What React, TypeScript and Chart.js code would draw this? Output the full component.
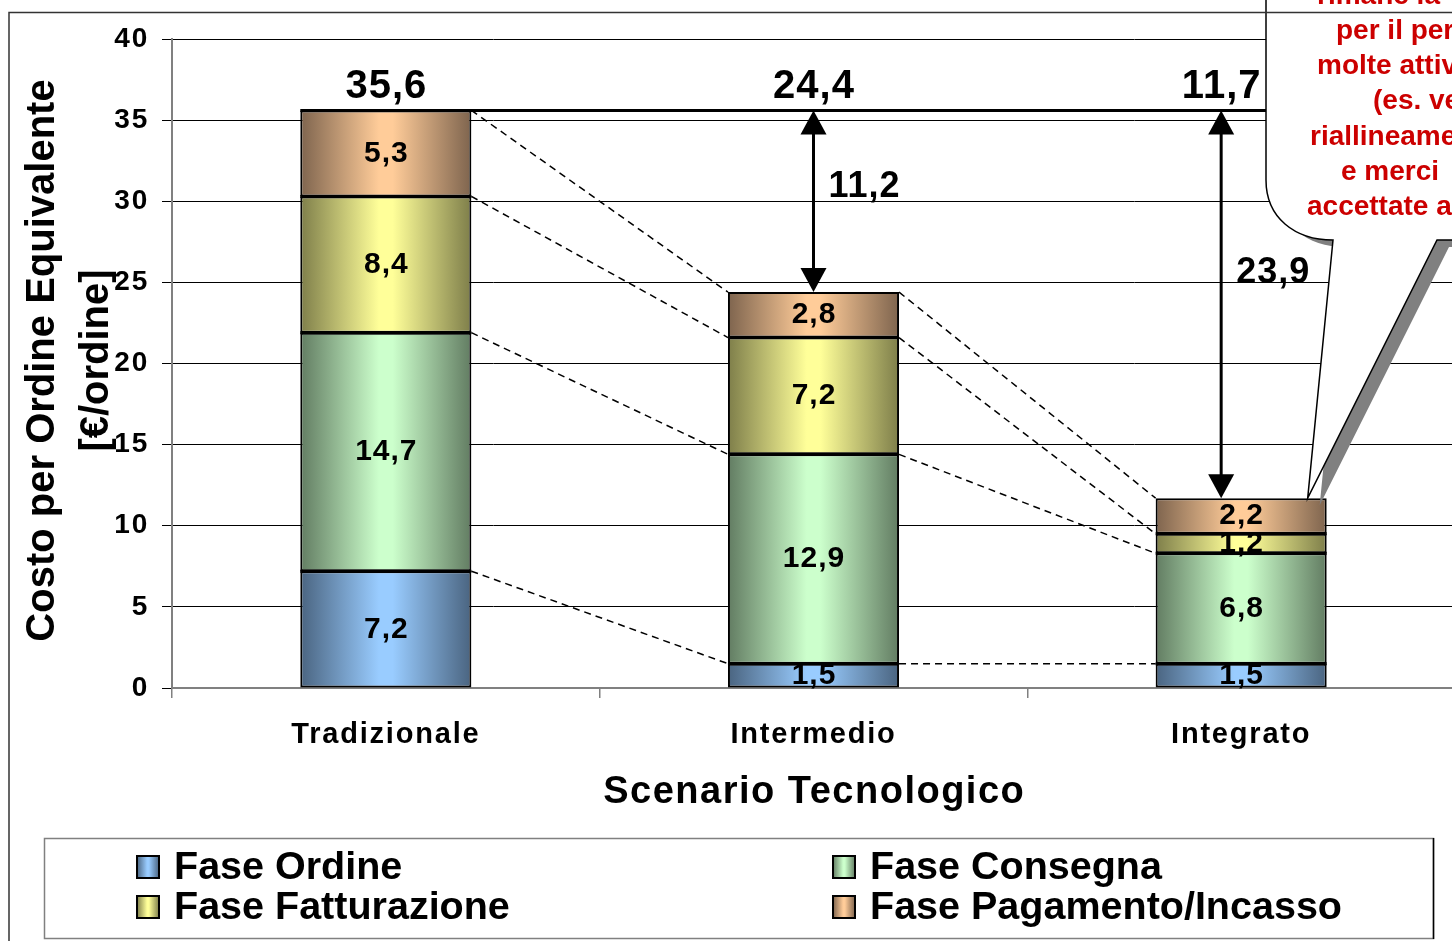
import React, { useEffect, useRef } from 'react';
import { Chart, registerables } from 'chart.js';

Chart.register(...registerables);

// ---------- data ----------
const categories = ['Tradizionale', 'Intermedio', 'Integrato'];
const faseOrdine = [7.2, 1.5, 1.5];
const faseConsegna = [14.7, 12.9, 6.8];
const faseFatturazione = [8.4, 7.2, 1.2];
const fasePagamento = [5.3, 2.8, 2.2];
const seriesLabels = ['Fase Ordine', 'Fase Consegna', 'Fase Fatturazione', 'Fase Pagamento/Incasso'];
const yMin = 0;
const yMax = 40;
const yStep = 5;
const yTitleLines = ['Costo per Ordine Equivalente', '[€/ordine]'];
const xTitle = 'Scenario Tecnologico';
const calloutLines = ['rimane la', 'per il per', 'molte attiv', '(es. ve', 'riallineame', 'e merci', 'accettate a'];

// ---------- styles ----------
const FONT = '"Liberation Sans", Arial, sans-serif';
const lightCol = ['#99ccff', '#ccffcc', '#ffff99', '#ffcc99'];
const darkCol = ['#4a6480', '#627c62', '#7e7e4a', '#7e644e'];
const CANVAS_W = 1470;
const CANVAS_H = 941;

const series = [faseOrdine, faseConsegna, faseFatturazione, fasePagamento];
const fmt = (v: number) => v.toFixed(1).replace('.', ',');

function makeGrad(ctx: CanvasRenderingContext2D, x0: number, x1: number, i: number) {
  const g = ctx.createLinearGradient(x0, 0, x1, 0);
  g.addColorStop(0, darkCol[i]);
  g.addColorStop(0.46, lightCol[i]);
  g.addColorStop(0.54, lightCol[i]);
  g.addColorStop(1, darkCol[i]);
  return g;
}

function txt(
  ctx: CanvasRenderingContext2D,
  s: string,
  x: number,
  y: number,
  size: number,
  o: { align?: CanvasTextAlign; color?: string; spacing?: number; baseline?: CanvasTextBaseline } = {}
) {
  const sp = o.spacing || 0;
  const align = o.align || 'center';
  ctx.save();
  ctx.font = `bold ${size}px ${FONT}`;
  (ctx as any).letterSpacing = `${sp}px`;
  ctx.fillStyle = o.color || '#000';
  ctx.textAlign = align;
  ctx.textBaseline = o.baseline || 'middle';
  ctx.fillText(s, align === 'center' ? x + sp / 2 : x, y);
  ctx.restore();
}

const overlay = {
  id: 'overlay',
  beforeDraw(chart: any) {
    (chart.ctx as any).letterSpacing = '1.8px';
  },
  beforeDatasetsDraw(chart: any) {
    (chart.ctx as any).letterSpacing = '0px';
  },
  afterDatasetsDraw(chart: any) {
    const ctx: CanvasRenderingContext2D = chart.ctx;
    const ys = chart.scales.y;
    const n = categories.length;
    const metas = series.map((_, i) => chart.getDatasetMeta(i));
    const base = metas[0].data as any[];
    const totals = categories.map((_, j) => series.reduce((s, arr) => s + arr[j], 0));
    const maxTotal = Math.max(...totals);
    const yTop = ys.getPixelForValue(maxTotal);

    // solid separators between stacked segments
    ctx.save();
    ctx.strokeStyle = '#000';
    ctx.lineWidth = 3;
    for (let k = 0; k < series.length - 1; k++) {
      metas[k].data.forEach((el: any) => {
        ctx.beginPath();
        ctx.moveTo(el.x - el.width / 2, el.y);
        ctx.lineTo(el.x + el.width / 2, el.y);
        ctx.stroke();
      });
    }
    ctx.restore();

    // dashed connectors between segment tops
    ctx.save();
    ctx.setLineDash([7, 5]);
    ctx.lineWidth = 1.5;
    ctx.strokeStyle = '#000';
    for (let k = 0; k < series.length; k++) {
      for (let j = 0; j < n - 1; j++) {
        const a = metas[k].data[j] as any;
        const b = metas[k].data[j + 1] as any;
        ctx.beginPath();
        ctx.moveTo(a.x + a.width / 2, a.y);
        ctx.lineTo(b.x - b.width / 2, b.y);
        ctx.stroke();
      }
    }
    ctx.restore();

    // segment value labels
    for (let k = 0; k < series.length; k++) {
      metas[k].data.forEach((el: any, j: number) => {
        txt(ctx, fmt(series[k][j]), el.x, (el.y + el.base) / 2, 30, { spacing: 1 });
      });
    }

    // thick reference line at the maximum total
    ctx.save();
    ctx.strokeStyle = '#000';
    ctx.lineWidth = 3;
    ctx.beginPath();
    ctx.moveTo(base[0].x - base[0].width / 2, yTop);
    ctx.lineTo(chart.width, yTop);
    ctx.stroke();
    ctx.restore();

    // totals + arrows
    for (let j = 0; j < n; j++) {
      const ax = base[j].x - (j === n - 1 ? 20 : 0);
      txt(ctx, fmt(totals[j]), ax, yTop - 23, 40, { spacing: 1 });
      if (j === 0) continue;
      const yb = ys.getPixelForValue(totals[j]);
      const hw = 13;
      const hh = 24;
      ctx.save();
      ctx.strokeStyle = '#000';
      ctx.fillStyle = '#000';
      ctx.lineWidth = 3;
      ctx.beginPath();
      ctx.moveTo(ax, yTop + hh - 2);
      ctx.lineTo(ax, yb - hh + 2);
      ctx.stroke();
      ctx.beginPath();
      ctx.moveTo(ax, yTop);
      ctx.lineTo(ax - hw, yTop + hh);
      ctx.lineTo(ax + hw, yTop + hh);
      ctx.closePath();
      ctx.fill();
      ctx.beginPath();
      ctx.moveTo(ax, yb);
      ctx.lineTo(ax - hw, yb - hh);
      ctx.lineTo(ax + hw, yb - hh);
      ctx.closePath();
      ctx.fill();
      ctx.restore();
      txt(ctx, fmt(totals[0] - totals[j]), ax + 15, yTop + (yb - yTop) * 0.42, 36, { align: 'left', spacing: 1 });
    }
  },
  afterDraw(chart: any) {
    const ctx: CanvasRenderingContext2D = chart.ctx;
    const area = chart.chartArea;
    const n = categories.length;
    const last = chart.getDatasetMeta(series.length - 1).data[n - 1] as any;

    // callout with tail pointing at the last bar
    const tipX = last.x + last.width / 2 - 19;
    const tipY = last.y;
    const calloutPath = (dx: number, dy: number) => {
      ctx.beginPath();
      ctx.moveTo(1266 + dx, -30 + dy);
      ctx.lineTo(1266 + dx, 180 + dy);
      ctx.bezierCurveTo(1266 + dx, 218 + dy, 1295 + dx, 240 + dy, 1333 + dx, 240 + dy);
      ctx.lineTo(tipX + dx, tipY + dy);
      ctx.lineTo(1437 + dx, 240 + dy);
      ctx.lineTo(1520 + dx, 240 + dy);
      ctx.lineTo(1520 + dx, -30 + dy);
      ctx.closePath();
    };
    ctx.save();
    calloutPath(12, 7);
    ctx.fillStyle = '#808080';
    ctx.fill();
    calloutPath(0, 0);
    ctx.fillStyle = '#ffffff';
    ctx.fill();
    ctx.strokeStyle = '#000';
    ctx.lineWidth = 1.5;
    ctx.lineJoin = 'miter';
    ctx.stroke();
    ctx.restore();
    const calloutX = [1317, 1336, 1317, 1373, 1310, 1341, 1307];
    calloutLines.forEach((s, i) => {
      txt(ctx, s, calloutX[i], -4 + i * 35.2, 28, { align: 'left', color: '#cc0000' });
    });

    // y axis title (two rotated lines)
    const yc = (area.top + area.bottom) / 2 - 3;
    const titleX = [43, 97];
    yTitleLines.forEach((s, i) => {
      ctx.save();
      ctx.translate(titleX[i], yc);
      ctx.rotate(-Math.PI / 2);
      txt(ctx, s, 0, 0, 40, {});
      ctx.restore();
    });

    // x axis title
    txt(ctx, xTitle, (area.left + area.right) / 2, 793, 38, { spacing: 1.5 });

    // legend
    ctx.save();
    ctx.strokeStyle = '#808080';
    ctx.lineWidth = 1.5;
    ctx.strokeRect(44.5, 838.5, 1389, 100);
    ctx.strokeStyle = '#000';
    ctx.beginPath();
    ctx.moveTo(1433.5, 838);
    ctx.lineTo(1433.5, 939);
    ctx.stroke();
    ctx.restore();
    const colX = [137, 833];
    const rowY = [867, 907];
    seriesLabels.forEach((label, i) => {
      const sx = colX[i % 2];
      const sy = rowY[Math.floor(i / 2)];
      ctx.save();
      ctx.fillStyle = makeGrad(ctx, sx, sx + 22, i);
      ctx.fillRect(sx, sy - 11, 22, 22);
      ctx.strokeStyle = '#000';
      ctx.lineWidth = 2;
      ctx.strokeRect(sx, sy - 11, 22, 22);
      ctx.restore();
      txt(ctx, label, sx + 37, sy + 1, 39.5, { align: 'left', spacing: 0 });
    });

    // outer frame
    ctx.save();
    ctx.strokeStyle = '#333';
    ctx.lineWidth = 1.5;
    ctx.strokeRect(9, 12.5, 1600, 1000);
    ctx.restore();
  },
};

export default function App() {
  const ref = useRef<HTMLCanvasElement>(null);
  useEffect(() => {
    const canvas = ref.current!;
    const datasets = series.map((data, i) => ({
      label: seriesLabels[i],
      data,
      backgroundColor: (c: any) => {
        const chart = c.chart;
        const xs = chart.scales && chart.scales.x;
        if (!xs || c.type !== 'data' || !xs.width) return lightCol[i];
        const cx = xs.getPixelForValue(c.dataIndex);
        const w = (xs.width / categories.length) * 0.4;
        return makeGrad(chart.ctx, cx - w / 2, cx + w / 2, i);
      },
      borderColor: '#000',
      borderWidth: 2,
      borderSkipped: false,
      barPercentage: 0.4,
      categoryPercentage: 1,
    }));
    const chart = new Chart(canvas, {
      type: 'bar',
      data: { labels: categories, datasets },
      options: {
        animation: false,
        responsive: false,
        devicePixelRatio: 1,
        layout: { padding: { top: 39, right: CANVAS_W - 1455, left: 0, bottom: 0 } },
        plugins: { legend: { display: false }, tooltip: { enabled: false }, title: { display: false } },
        scales: {
          x: {
            stacked: true,
            offset: true,
            grid: {
              display: true,
              offset: true,
              drawOnChartArea: false,
              drawTicks: true,
              tickLength: 10,
              color: '#808080',
              lineWidth: 1.5,
            },
            border: { display: true, color: '#808080', width: 2 },
            ticks: {
              color: '#000',
              font: { family: FONT, size: 29, weight: 'bold' },
              padding: 20,
              maxRotation: 0,
              autoSkip: false,
            },
            afterFit: (s: any) => {
              s.height = CANVAS_H - 688;
            },
          },
          y: {
            stacked: true,
            min: yMin,
            max: yMax,
            ticks: {
              stepSize: yStep,
              color: '#000',
              font: { family: FONT, size: 28, weight: 'bold' },
              padding: 13,
            },
            grid: { color: '#000', lineWidth: 1, tickLength: 10, tickColor: '#000' },
            border: { display: true, color: '#808080', width: 2 },
            afterFit: (s: any) => {
              s.width = 172;
            },
          },
        },
      } as any,
      plugins: [overlay],
    });
    return () => chart.destroy();
  }, []);
  return (
    <div
      style={{
        position: 'fixed',
        left: 0,
        top: 0,
        width: 1452,
        height: 941,
        overflow: 'hidden',
        background: '#fff',
      }}
    >
      <canvas ref={ref} width={CANVAS_W} height={CANVAS_H} style={{ display: 'block' }} />
    </div>
  );
}
